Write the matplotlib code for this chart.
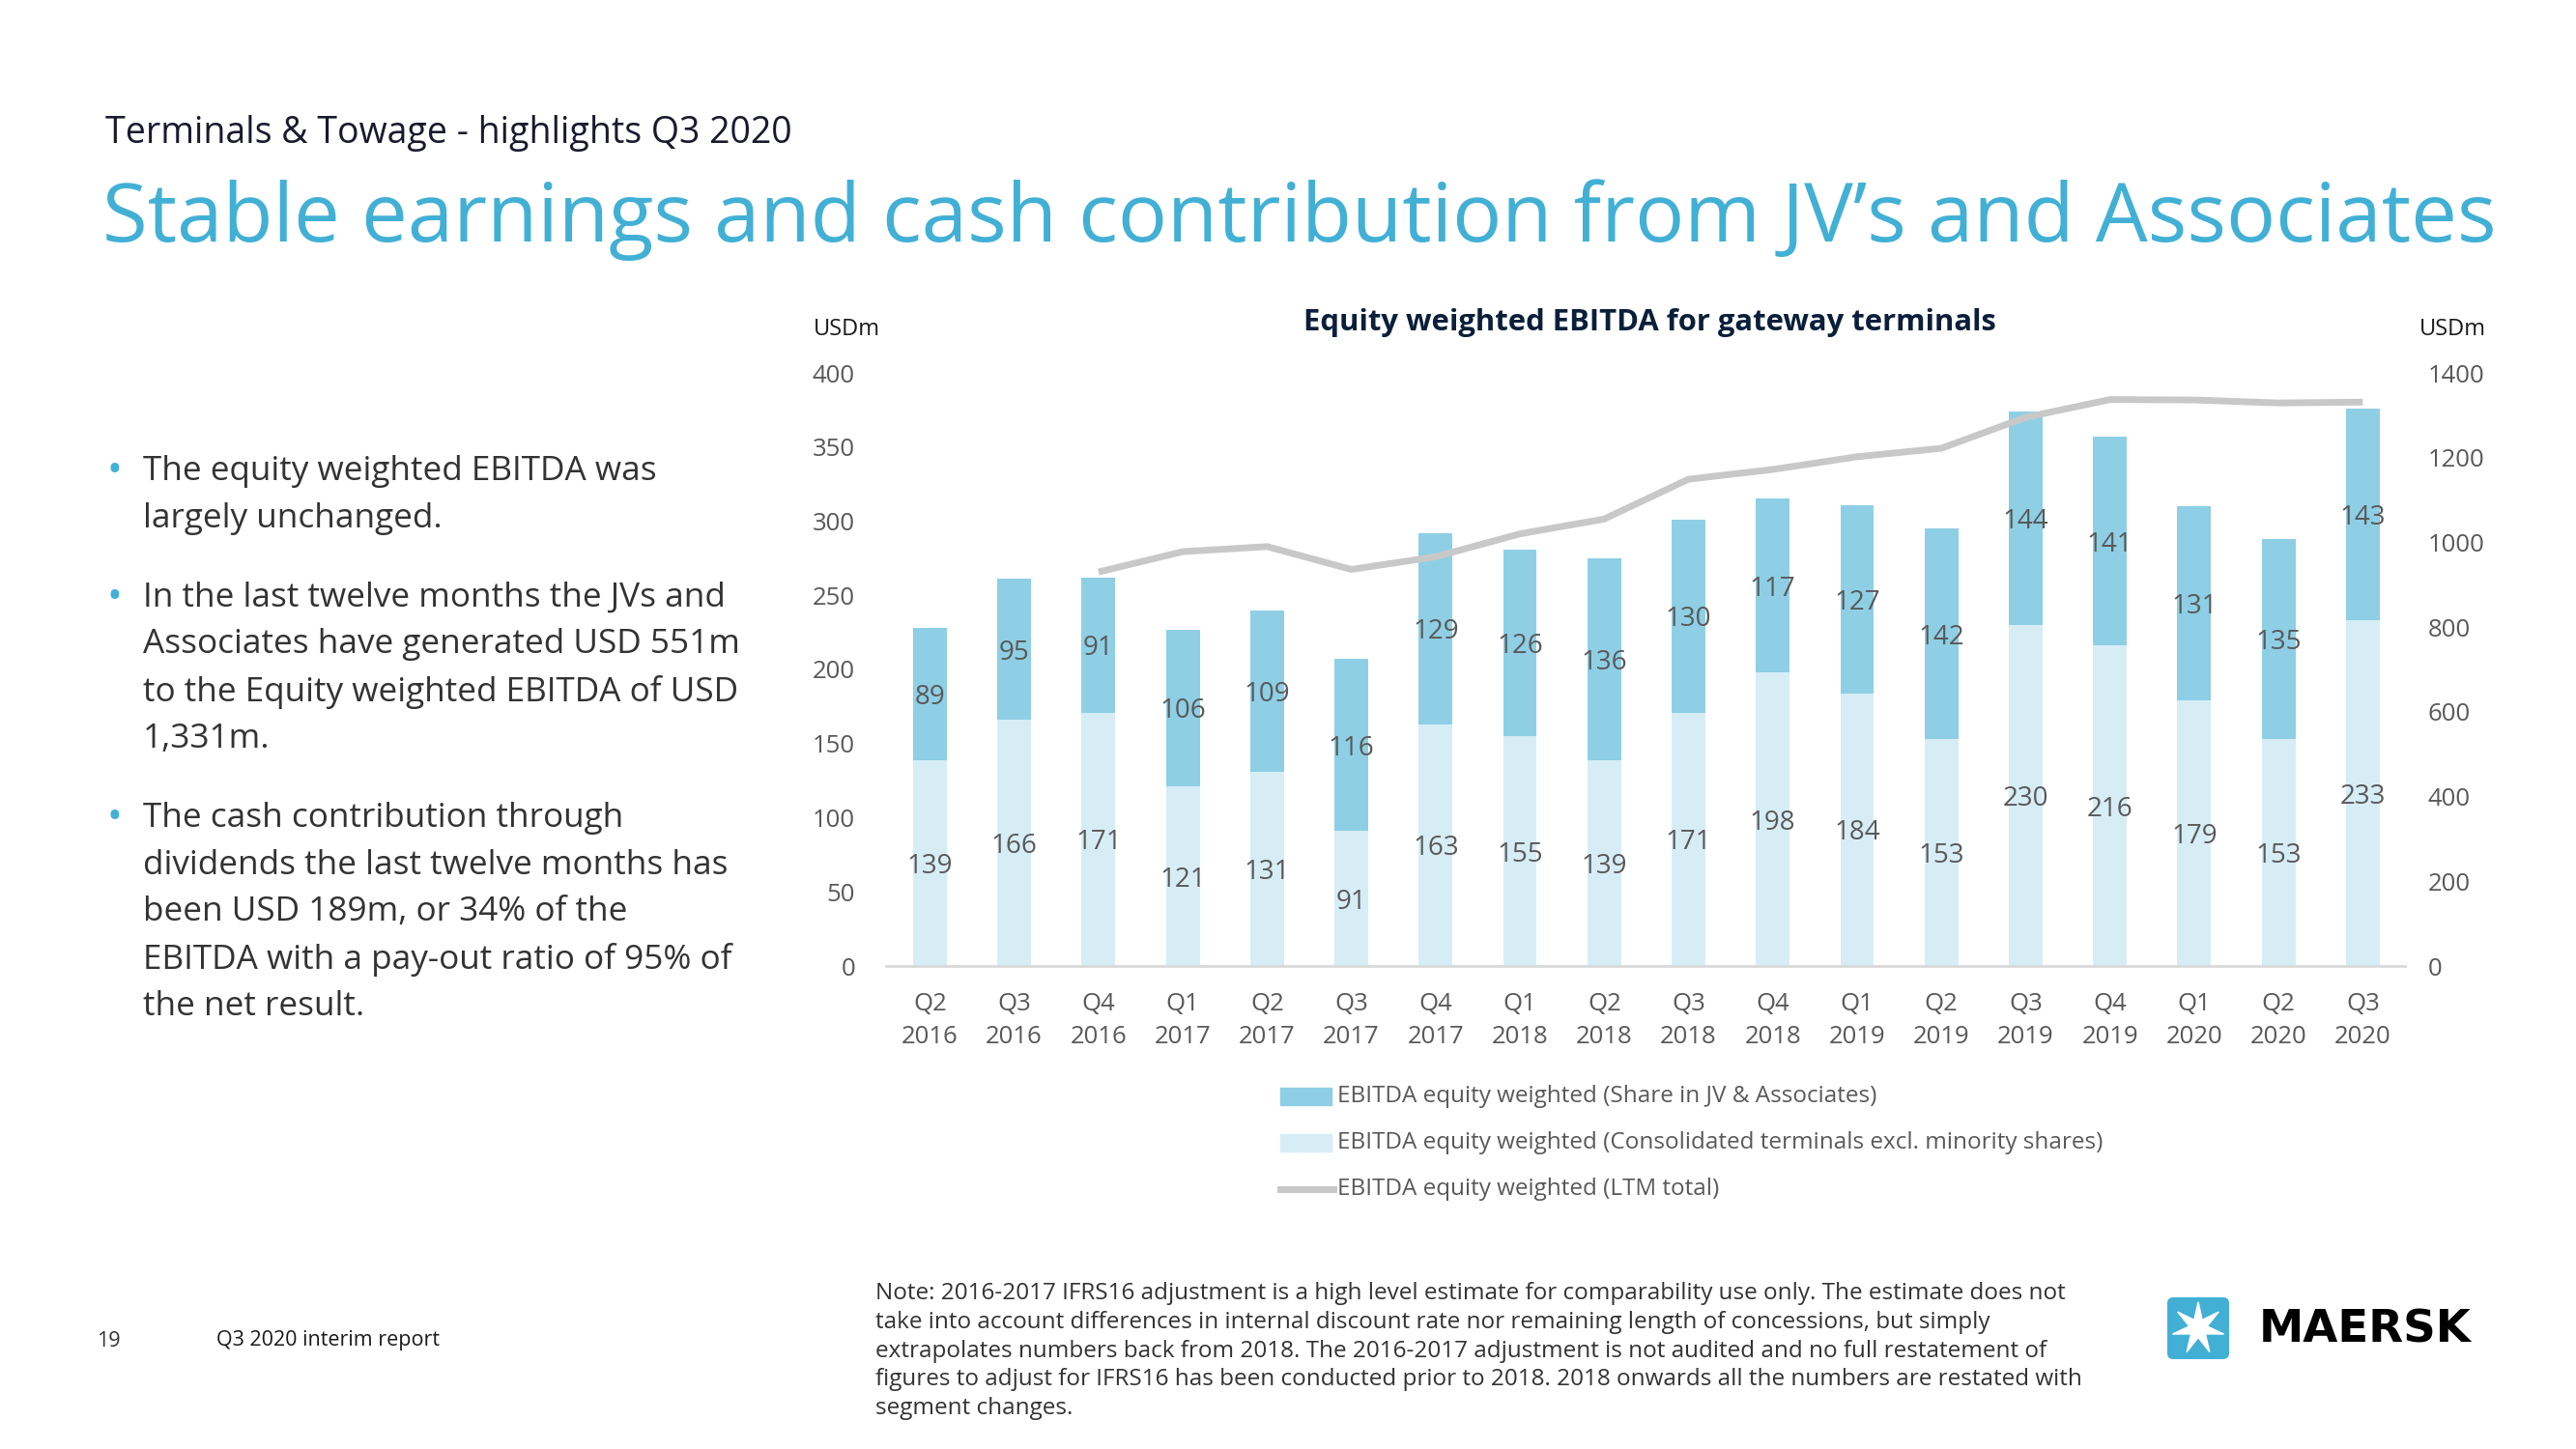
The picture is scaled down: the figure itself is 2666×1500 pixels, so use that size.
import matplotlib
matplotlib.use("Agg")
import matplotlib.pyplot as plt
import numpy as np
from matplotlib.patches import FancyBboxPatch, Polygon, Rectangle
from matplotlib.lines import Line2D

quarters = ["Q2\n2016", "Q3\n2016", "Q4\n2016", "Q1\n2017", "Q2\n2017", "Q3\n2017",
            "Q4\n2017", "Q1\n2018", "Q2\n2018", "Q3\n2018", "Q4\n2018", "Q1\n2019",
            "Q2\n2019", "Q3\n2019", "Q4\n2019", "Q1\n2020", "Q2\n2020", "Q3\n2020"]
consolidated = [139, 166, 171, 121, 131, 91, 163, 155, 139, 171, 198, 184, 153, 230, 216, 179, 153, 233]
jv_share = [89, 95, 91, 106, 109, 116, 129, 126, 136, 130, 117, 127, 142, 144, 141, 131, 135, 143]
ltm_quarters = quarters[2:]
ltm_total = [930, 978, 990, 936, 966, 1020, 1055, 1149, 1172, 1202, 1222, 1295, 1337, 1336, 1329, 1331]

BLUE = "#42B0D5"
DARK = "#8ECFE5"
LIGHT = "#D6EDF6"
GREY_LINE = "#C8C8C8"
TXT = "#595959"

plt.rcParams["font.family"] = ["Open Sans", "DejaVu Sans"]

W, H = 2666, 1500
fig = plt.figure(figsize=(W / 100, H / 100), dpi=100)
fig.patch.set_facecolor("white")

def fx(px):
    return px / W

def fy(py):
    return 1 - py / H

# headings
fig.text(fx(109), fy(148), "Terminals & Towage - highlights Q3 2020", fontsize=27,
         color="#1a1a2e", va="baseline", ha="left")
fig.text(fx(106), fy(250), "Stable earnings and cash contribution from JV\u2019s and Associates",
         fontsize=61.3, color=BLUE, va="baseline", ha="left")

# chart
ax = fig.add_axes([fx(917), fy(1000), fx(2489) - fx(917), fy(386) - fy(1000)])
x = np.arange(len(quarters))
b1 = ax.bar(x, consolidated, width=0.4, color=LIGHT, zorder=2)
b2 = ax.bar(x, jv_share, width=0.4, bottom=consolidated, color=DARK, zorder=2)
for i in range(len(quarters)):
    ax.text(x[i], consolidated[i] / 2, str(consolidated[i]), ha="center", va="center_baseline",
            fontsize=20, color=TXT, zorder=5)
    ax.text(x[i], consolidated[i] + jv_share[i] / 2, str(jv_share[i]), ha="center",
            va="center_baseline", fontsize=20, color=TXT, zorder=5)
ax.set_xlim(-0.52, len(quarters) - 0.5)
ax.set_ylim(0, 400)
ax.set_yticks(np.arange(0, 401, 50))
ax.set_xticks(x)
ax.set_xticklabels(quarters, linespacing=1.45)
ax.tick_params(axis="both", length=0, labelsize=18.5, labelcolor=TXT)
ax.tick_params(axis="x", pad=19.5)
ax.tick_params(axis="y", pad=23)
for s in ["top", "left", "right"]:
    ax.spines[s].set_visible(False)
ax.spines["bottom"].set_color("#D9D9D9")
ax.spines["bottom"].set_linewidth(2)

ax2 = ax.twinx()
ltm_x = [quarters.index(q) for q in ltm_quarters]
ln, = ax2.plot(ltm_x, ltm_total, color=GREY_LINE, lw=5, solid_capstyle="butt", zorder=3)
ax2.set_ylim(0, 1400)
ax2.set_yticks(np.arange(0, 1401, 200))
ax2.tick_params(axis="y", length=0, labelsize=18.5, labelcolor=TXT, pad=17)
for s in ax2.spines.values():
    s.set_visible(False)

fig.text(fx(1707), fy(342), "Equity weighted EBITDA for gateway terminals", fontsize=22.3,
         fontweight="bold", color="#0B1F3A", ha="center", va="baseline")
fig.text(fx(842), fy(341), "USDm", fontsize=17, color="#1a1a1a", ha="left", va="center")
fig.text(fx(2504), fy(341), "USDm", fontsize=17, color="#1a1a1a", ha="left", va="center")

# legend
leg_items = [("patch", DARK, "EBITDA equity weighted (Share in JV & Associates)"),
             ("patch", LIGHT, "EBITDA equity weighted (Consolidated terminals excl. minority shares)"),
             ("line", GREY_LINE, "EBITDA equity weighted (LTM total)")]
for k, (kind, col, lab) in enumerate(leg_items):
    yc = 1135 + 48 * k
    if kind == "patch":
        fig.add_artist(Rectangle((fx(1325), fy(yc + 9)), fx(53), 18 / H, color=col,
                                 transform=fig.transFigure))
    else:
        fig.add_artist(Line2D([fx(1325), fx(1380)], [fy(yc), fy(yc)], color=col, lw=5,
                              transform=fig.transFigure))
    fig.text(fx(1384), fy(yc), lab, fontsize=17.5, color=TXT, ha="left", va="center")

# bullets
paragraphs = [["The equity weighted EBITDA was", "largely unchanged."],
              ["In the last twelve months the JVs and", "Associates have generated USD 551m",
               "to the Equity weighted EBITDA of USD", "1,331m."],
              ["The cash contribution through", "dividends the last twelve months has",
               "been USD 189m, or 34% of the", "EBITDA with a pay-out ratio of 95% of",
               "the net result."]]
yy = 488
for para in paragraphs:
    fig.text(fx(110), fy(yy), "\u2022", fontsize=30, color=BLUE, ha="left", va="center")
    for line in para:
        fig.text(fx(148), fy(yy), line, fontsize=25.3, color="#333333", ha="left", va="center")
        yy += 48.8
    yy += 33

# note
note = ["Note: 2016-2017 IFRS16 adjustment is a high level estimate for comparability use only. The estimate does not",
        "take into account differences in internal discount rate nor remaining length of concessions, but simply",
        "extrapolates numbers back from 2018. The 2016-2017 adjustment is not audited and no full restatement of",
        "figures to adjust for IFRS16 has been conducted prior to 2018. 2018 onwards all the numbers are restated with",
        "segment changes."]
for k, line in enumerate(note):
    fig.text(fx(906), fy(1339 + 29.8 * k), line, fontsize=17.5, color="#333333", ha="left", va="center")

# footer
fig.text(fx(100), fy(1388), "19", fontsize=15.5, color="#333333", ha="left", va="center")
fig.text(fx(224), fy(1388), "Q3 2020 interim report", fontsize=15.5, color="#1a1a1a", ha="left", va="center")

# logo
lax = fig.add_axes([fx(2241), fy(1409), fx(68), 68 / H])
lax.set_xlim(0, 1)
lax.set_ylim(0, 1)
lax.axis("off")
lax.add_patch(FancyBboxPatch((0.04, 0.04), 0.92, 0.92, boxstyle="round,pad=0,rounding_size=0.08",
                             color=BLUE))
ang = np.pi / 2 + np.arange(14) * np.pi / 7
rad = np.where(np.arange(14) % 2 == 0, 0.4, 0.14)
lax.add_patch(Polygon(np.c_[0.5 + rad * np.cos(ang), 0.5 + rad * np.sin(ang)], color="white"))
fig.text(fx(2338), fy(1377), "MAERSK", fontsize=33.6, fontweight="bold", family="DejaVu Sans",
         color="#000000", ha="left", va="center")

fig.savefig("out.png", dpi=100, facecolor="white")
